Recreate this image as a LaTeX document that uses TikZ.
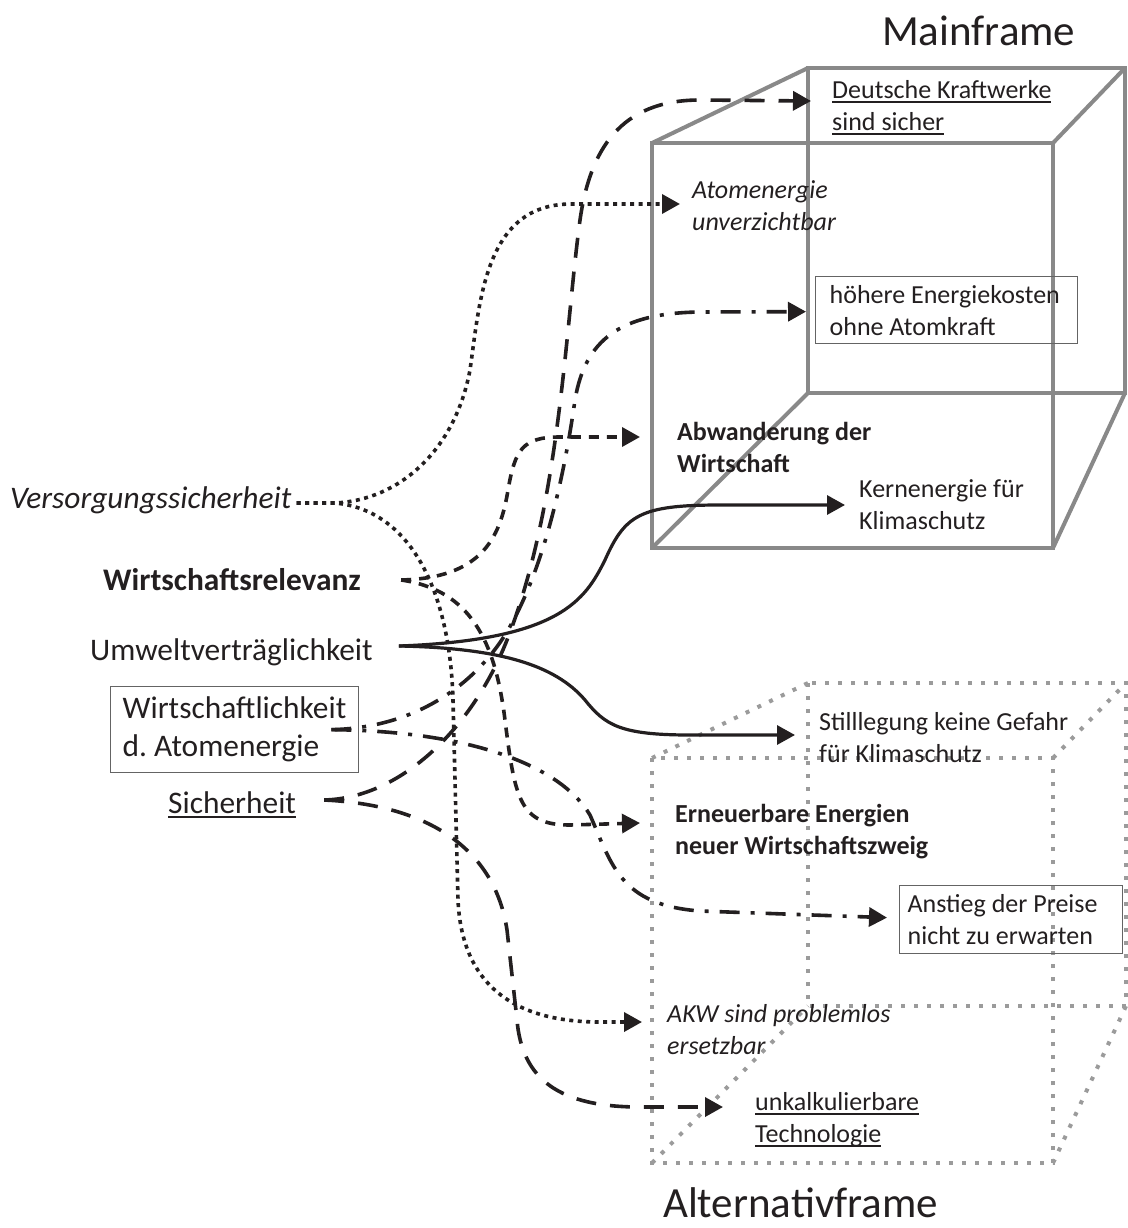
\documentclass[tikz,border=0pt]{standalone}
\usepackage{fontspec}
\setmainfont{Carlito}
\usetikzlibrary{arrows.meta}
\definecolor{ink}{RGB}{35,31,32}
\definecolor{cubegray}{RGB}{137,137,137}
\definecolor{boxgray}{RGB}{100,100,100}
\frenchspacing
\newcommand\myul[1]{\setbox0\hbox{#1}\rlap{\rule[-4.5pt]{\wd0}{1.8pt}}\box0}
\newcommand\fbig{\fontsize{43}{52}\selectfont}
\newcommand\flab{\fontsize{31.4}{38}\selectfont}
\newcommand\ftgt{\fontsize{26}{32}\selectfont}
\tikzset{
  lab/.style={inner sep=0pt, anchor=west, font=\flab, text=ink},
  tgt/.style={inner sep=0pt, anchor=west, font=\ftgt, align=left, text=ink},
  tbox/.style={draw=boxgray, line width=1.3pt, anchor=north west, align=flush left, inner ysep=0pt, text=ink},
  con/.style={draw=ink, line width=3.6pt, -{Triangle[length=18pt,width=19pt]}},
  dotline/.style={con, dash pattern=on 4pt off 4.5pt},
  shortdash/.style={con, dash pattern=on 10pt off 8pt},
  longdash/.style={con, dash pattern=on 20pt off 14pt},
  dashdot/.style={con, dash pattern=on 20pt off 11pt on 4pt off 11pt},
  solidline/.style={con, line width=3.2pt},
  cubesolid/.style={draw=cubegray, line width=4pt, line join=miter},
  cubedot/.style={draw=cubegray!85, line width=4pt, dash pattern=on 4pt off 9pt}
}
\begin{document}
\begin{tikzpicture}[x=1pt, y=-1pt]
\useasboundingbox (0,0) rectangle (1127,1228);
% --- Mainframe cube ---
\draw[cubesolid] (652,143) rectangle (1053,548);
\draw[cubesolid] (808,68) rectangle (1125,393);
\draw[cubesolid] (652,143) -- (808,68);
\draw[cubesolid] (1053,143) -- (1125,68);
\draw[cubesolid] (652,548) -- (808,393);
\draw[cubesolid] (1053,548) -- (1125,393);
% --- Alternativframe cube ---
\draw[cubedot] (652,758) rectangle (1053,1163);
\draw[cubedot] (808,683) rectangle (1126,1006);
\draw[cubedot] (652,758) -- (808,683);
\draw[cubedot] (1053,758) -- (1126,683);
\draw[cubedot] (652,1163) -- (808,1006);
\draw[cubedot] (1053,1163) -- (1126,1006);
% --- titles ---
\node[font=\fbig, text=ink, inner sep=0pt, anchor=base west] (mf) at (882,46) {Mainframe};
\node[font=\fbig, text=ink, inner sep=0pt, anchor=base west] (af) at (663,1217) {Alternativframe};
% --- left labels ---
\node[lab, font=\flab\itshape] (vs) at (10,500) {Versorgungssicherheit};
\node[lab, font=\flab\bfseries] (wr) at (103,580) {Wirtschaftsrelevanz};
\node[lab] (uv) at (90,652) {Umweltverträglichkeit};
\node[tbox, font=\flab, minimum width=248pt, minimum height=86pt, text width=224pt, inner xsep=12pt] (wa) at (110,686) {\mbox{Wirtschaftlichkeit}\\\mbox{d. Atomenergie}};
\node[lab] (si) at (168,805) {\myul{Sicherheit}};
% --- targets ---
\node[tgt] (dk) at (832,108) {\myul{Deutsche Kraftwerke}\\\myul{sind sicher}};
\node[tgt, font=\ftgt\itshape] (au) at (692,206) {Atomenergie\\unverzichtbar};
\node[tbox, font=\ftgt, minimum width=262pt, minimum height=67pt, text width=234pt, inner xsep=14pt] (he) at (815,276) {\mbox{höhere Energiekosten}\\\mbox{ohne Atomkraft}};
\node[tgt, font=\ftgt\bfseries] (ab) at (677,447) {Abwanderung der\\Wirtschaft};
\node[tgt] (ke) at (859,505) {Kernenergie für\\Klimaschutz};
\node[tgt] (st) at (819,738) {Stilllegung keine Gefahr\\für Klimaschutz};
\node[tgt, font=\ftgt\bfseries] (ee) at (675,832) {Erneuerbare Energien\\neuer Wirtschaftszweig};
\node[tbox, font=\ftgt, minimum width=223pt, minimum height=68pt, text width=207pt, inner xsep=8pt] (an) at (899,885) {\mbox{Anstieg der Preise}\\\mbox{nicht zu erwarten}};
\node[tgt, font=\ftgt\itshape] (akw) at (667,1030) {AKW sind problemlos\\ersetzbar};
\node[tgt] (uk) at (755,1120) {\myul{unkalkulierbare}\\\myul{Technologie}};
% --- connectors ---
% Versorgungssicherheit (dotted)
\draw[dotline] ([shift={(5,3)}]vs.east) -- (335,503) .. controls (400,500) and (455,450) .. (470,370) .. controls (480,300) and (485,205) .. (570,204) -- ([shift={(-12,-2)}]au.west);
\draw[dotline] ([shift={(5,3)}]vs.east) -- (335,503) .. controls (410,510) and (450,590) .. (453,700) -- (458,900) .. controls (462,990) and (520,1022) .. (600,1022) -- ([shift={(-25,-8)}]akw.west);
% Wirtschaftsrelevanz (short dashes)
\draw[shortdash] ([xshift=40]wr.east) .. controls (480,578) and (500,540) .. (508,490) .. controls (515,450) and (522,437) .. (560,437) -- ([shift={(-37,-10)}]ab.west);
\draw[shortdash] ([xshift=40]wr.east) .. controls (470,590) and (495,640) .. (505,720) .. controls (515,800) and (520,825) .. (570,825) -- ([shift={(-35,-9)}]ee.west);
% Umweltvertraeglichkeit (solid)
\draw[solidline] ([shift={(26,-6)}]uv.east) .. controls (560,640) and (585,600) .. (605,560) .. controls (625,515) and (640,505) .. (720,505) -- ([xshift=-14]ke.west);
\draw[solidline] ([shift={(26,-6)}]uv.east) .. controls (500,648) and (555,665) .. (585,700) .. controls (605,725) and (620,735) .. (690,735) -- ([shift={(-24,-3)}]st.west);
% Wirtschaftlichkeit (dash-dot)
\draw[dashdot] ([xshift=-28]wa.east) .. controls (410,728) and (470,690) .. (505,635) .. controls (545,570) and (565,470) .. (575,400) .. controls (585,340) and (620,313) .. (700,312) -- ([shift={(-9,1.5)}]he.west);
\draw[dashdot] ([xshift=-28]wa.east) .. controls (470,731) and (560,765) .. (590,815) .. controls (612,865) and (620,905) .. (700,911) -- ([shift={(-12,-2)}]an.west);
% Sicherheit (long dashes)
\draw[longdash] ([shift={(28,-5)}]si.east) .. controls (400,798) and (470,730) .. (505,645) .. controls (560,510) and (565,330) .. (580,220) .. controls (590,150) and (620,100) .. (700,100) -- ([shift={(-21,-7)}]dk.west);
\draw[longdash] ([shift={(28,-5)}]si.east) .. controls (430,805) and (495,850) .. (507,930) -- (517,1020) .. controls (522,1080) and (560,1107) .. (640,1107) -- ([shift={(-32,-13)}]uk.west);
\end{tikzpicture}
\end{document}
